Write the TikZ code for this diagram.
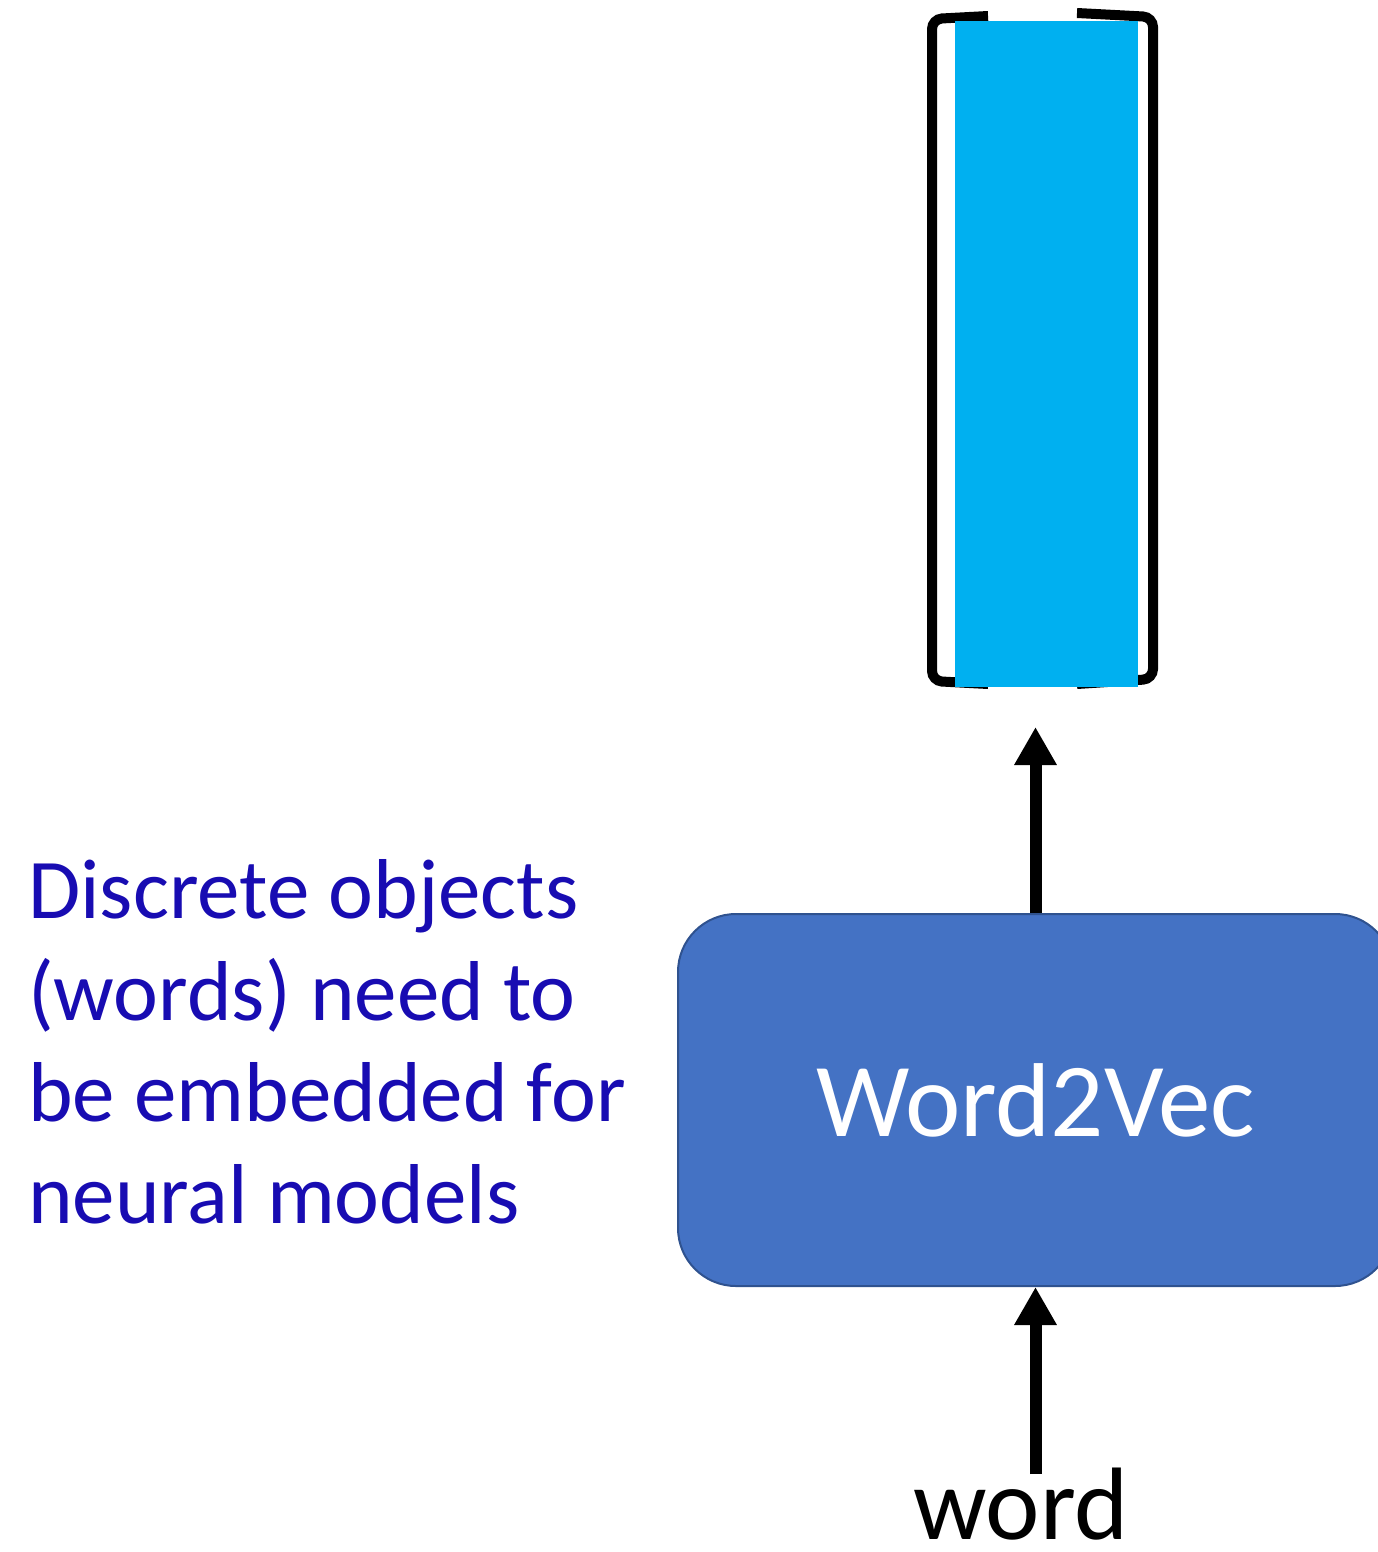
\documentclass[tikz,border=0pt]{standalone}
\usepackage{fontspec}
\setmainfont{Carlito}
\usetikzlibrary{arrows.meta}
\definecolor{txtblue}{RGB}{24,12,178}
\definecolor{boxfill}{RGB}{68,114,196}
\definecolor{boxline}{RGB}{47,82,143}
\definecolor{vecblue}{RGB}{0,176,240}
\tikzset{
  upflow/.style={line width=12pt, -{Triangle[width=40pt,length=38pt]}},
  bracketline/.style={line width=10pt, rounded corners=10pt},
}
\begin{document}
\begin{tikzpicture}[x=1pt,y=-1pt]
\useasboundingbox (0,0) rectangle (1377,1552);
% vector
\draw[bracketline] (988,16) -- (932,19) -- (932,681) -- (988,684);
\draw[bracketline] (1077,13) -- (1153,17) -- (1153,679) -- (1077,684);
\node[fill=vecblue, inner sep=0, minimum width=183pt, minimum height=666pt, anchor=north west] (vec) at (955,21) {};
% box
\node[draw=boxline, line width=2pt, fill=boxfill, rounded corners=58pt, minimum width=715pt, minimum height=372pt, anchor=north west, text=white, font=\fontsize{105}{120}\selectfont] (w2v) at (677,913) {Word2Vec};
\coordinate (vectip) at ([yshift=186pt]w2v.north);
\draw[upflow] (w2v.north) -- (vectip);
% input
\node[font=\fontsize{103}{120}\selectfont, anchor=base, inner sep=0] (word) at (1021,1539) {word};
\coordinate (wordtail) at ([yshift=-187pt]w2v.south);
\draw[upflow] (wordtail) -- (w2v.south);
% caption
\node[font=\fontsize{85}{101.5}\selectfont, text=txtblue, align=left, anchor=base west, inner sep=0] (cap) at (28,1223) {Discrete objects\\(words) need to\\be embedded for\\neural models};
\end{tikzpicture}
\end{document}
